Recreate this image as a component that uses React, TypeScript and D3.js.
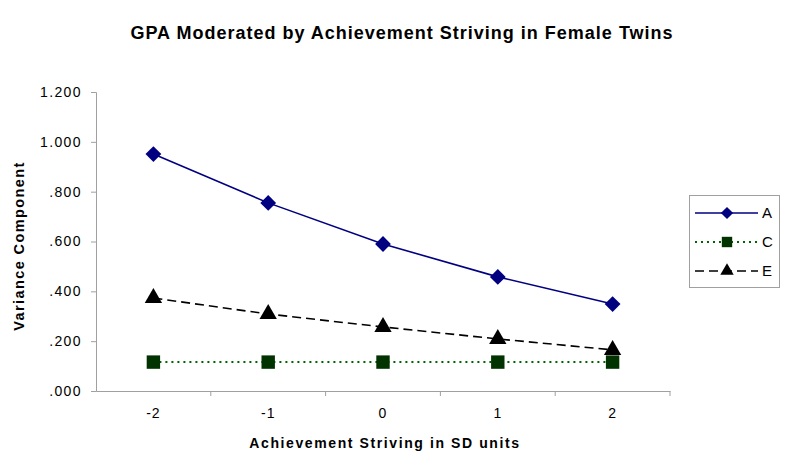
import React, { useEffect, useRef } from 'react';
import * as d3 from 'd3';

const categories = ['-2', '-1', '0', '1', '2'];
const seriesA = [0.951, 0.755, 0.59, 0.458, 0.349];
const seriesC = [0.116, 0.116, 0.116, 0.116, 0.116];
const seriesE = [0.373, 0.309, 0.257, 0.209, 0.165];
const yTicks = [0, 0.2, 0.4, 0.6, 0.8, 1.0, 1.2];
const yTickLabels = ['.000', '.200', '.400', '.600', '.800', '1.000', '1.200'];

const App = () => {
  const svgRef = useRef<SVGSVGElement>(null);

  useEffect(() => {
    if (!svgRef.current) return;
    const svg = d3.select(svgRef.current);
    svg.selectAll('*').remove();

    const width = 796;
    const height = 476;
    const font = 'Arial, "Liberation Sans", sans-serif';

    // scales
    const x = d3.scaleBand().domain(categories).range([96, 670]);
    const y = d3.scaleLinear().domain([0, 1.2]).range([391, 92]);
    const cx = (c: string) => (x(c) as number) + x.bandwidth() / 2;

    svg.append('rect').attr('width', width).attr('height', height).attr('fill', '#fff');

    // title
    svg.append('text')
      .attr('x', 402).attr('y', 39)
      .attr('text-anchor', 'middle')
      .attr('font-family', font).attr('font-weight', 'bold').attr('font-size', 18)
      .attr('letter-spacing', 1)
      .text('GPA Moderated by Achievement Striving in Female Twins');

    // y axis
    const yAxis = svg.append('g').attr('transform', 'translate(96,0)')
      .call(d3.axisLeft(y).tickValues(yTicks).tickSize(5).tickPadding(9)
        .tickFormat((d, i) => yTickLabels[i]));
    yAxis.select('.domain').attr('stroke', '#a0a0a0');
    yAxis.selectAll('.tick line').attr('stroke', '#a0a0a0');
    yAxis.selectAll('.tick text')
      .attr('font-family', font).attr('font-size', 14).attr('letter-spacing', 1.4)
      .attr('fill', '#000');

    // x axis
    const xAxis = svg.append('g').attr('transform', 'translate(0,391)')
      .call(d3.axisBottom(x).tickSize(0).tickPadding(17));
    xAxis.select('.domain').attr('stroke', '#a0a0a0');
    xAxis.selectAll('.tick text')
      .attr('font-family', font).attr('font-size', 14).attr('letter-spacing', 1)
      .attr('fill', '#000');
    // boundary ticks between categories
    const bounds = categories.map(c => (x(c) as number) + x.bandwidth());
    xAxis.selectAll('.bnd').data(bounds).enter().append('line')
      .attr('x1', d => d).attr('x2', d => d).attr('y1', 0).attr('y2', 5)
      .attr('stroke', '#a0a0a0');

    // axis titles
    svg.append('text')
      .attr('x', 385).attr('y', 448)
      .attr('text-anchor', 'middle')
      .attr('font-family', font).attr('font-weight', 'bold').attr('font-size', 14)
      .attr('letter-spacing', 1.6)
      .text('Achievement Striving in SD units');
    svg.append('text')
      .attr('transform', 'translate(24,246) rotate(-90)')
      .attr('text-anchor', 'middle')
      .attr('font-family', font).attr('font-weight', 'bold').attr('font-size', 14.5)
      .attr('letter-spacing', 1.4)
      .text('Variance Component');

    const line = d3.line<number>().x((_, i) => cx(categories[i])).y(d => y(d));

    const series = [
      { name: 'A', data: seriesA, stroke: '#000080', fill: '#000080', dash: null, sym: d3.symbolSquare, rot: 45, size: 125 },
      { name: 'C', data: seriesC, stroke: '#006400', fill: '#003300', dash: '2,4', sym: d3.symbolSquare, rot: 0, size: 180 },
      { name: 'E', data: seriesE, stroke: '#000', fill: '#000', dash: '9,5', sym: d3.symbolTriangle, rot: 0, size: 130 },
    ];

    const order = [series[1], series[2], series[0]];
    order.forEach(s => {
      svg.append('path')
        .datum(s.data)
        .attr('fill', 'none')
        .attr('stroke', s.stroke)
        .attr('stroke-width', s.name === 'C' ? 2 : 1.6)
        .attr('stroke-dasharray', s.dash)
        .attr('d', line);
      svg.selectAll(null).data(s.data).enter().append('path')
        .attr('transform', (d, i) => `translate(${cx(categories[i])},${y(d)}) rotate(${s.rot})`)
        .attr('d', d3.symbol().type(s.sym).size(s.size)())
        .attr('fill', s.fill);
    });

    // legend
    const lg = svg.append('g');
    lg.append('rect')
      .attr('x', 689.5).attr('y', 195.5).attr('width', 90).attr('height', 92)
      .attr('fill', '#fff').attr('stroke', '#a0a0a0');
    series.forEach((s, i) => {
      const ly = 213 + i * 29;
      lg.append('line')
        .attr('x1', 695).attr('x2', 758).attr('y1', ly).attr('y2', ly)
        .attr('stroke', s.stroke).attr('stroke-width', s.name === 'C' ? 2 : 1.6)
        .attr('stroke-dasharray', s.dash);
      lg.append('path')
        .attr('transform', `translate(727,${ly}) rotate(${s.rot})`)
        .attr('d', d3.symbol().type(s.sym).size(s.size * 0.6)())
        .attr('fill', s.fill);
      lg.append('text')
        .attr('x', 762).attr('y', ly + 5)
        .attr('font-family', font).attr('font-size', 15)
        .text(s.name);
    });
  }, []);

  return (
    <div style={{ margin: -8 }}>
      <svg ref={svgRef} width={796} height={476} style={{ display: 'block' }}></svg>
    </div>
  );
};

export default App;
